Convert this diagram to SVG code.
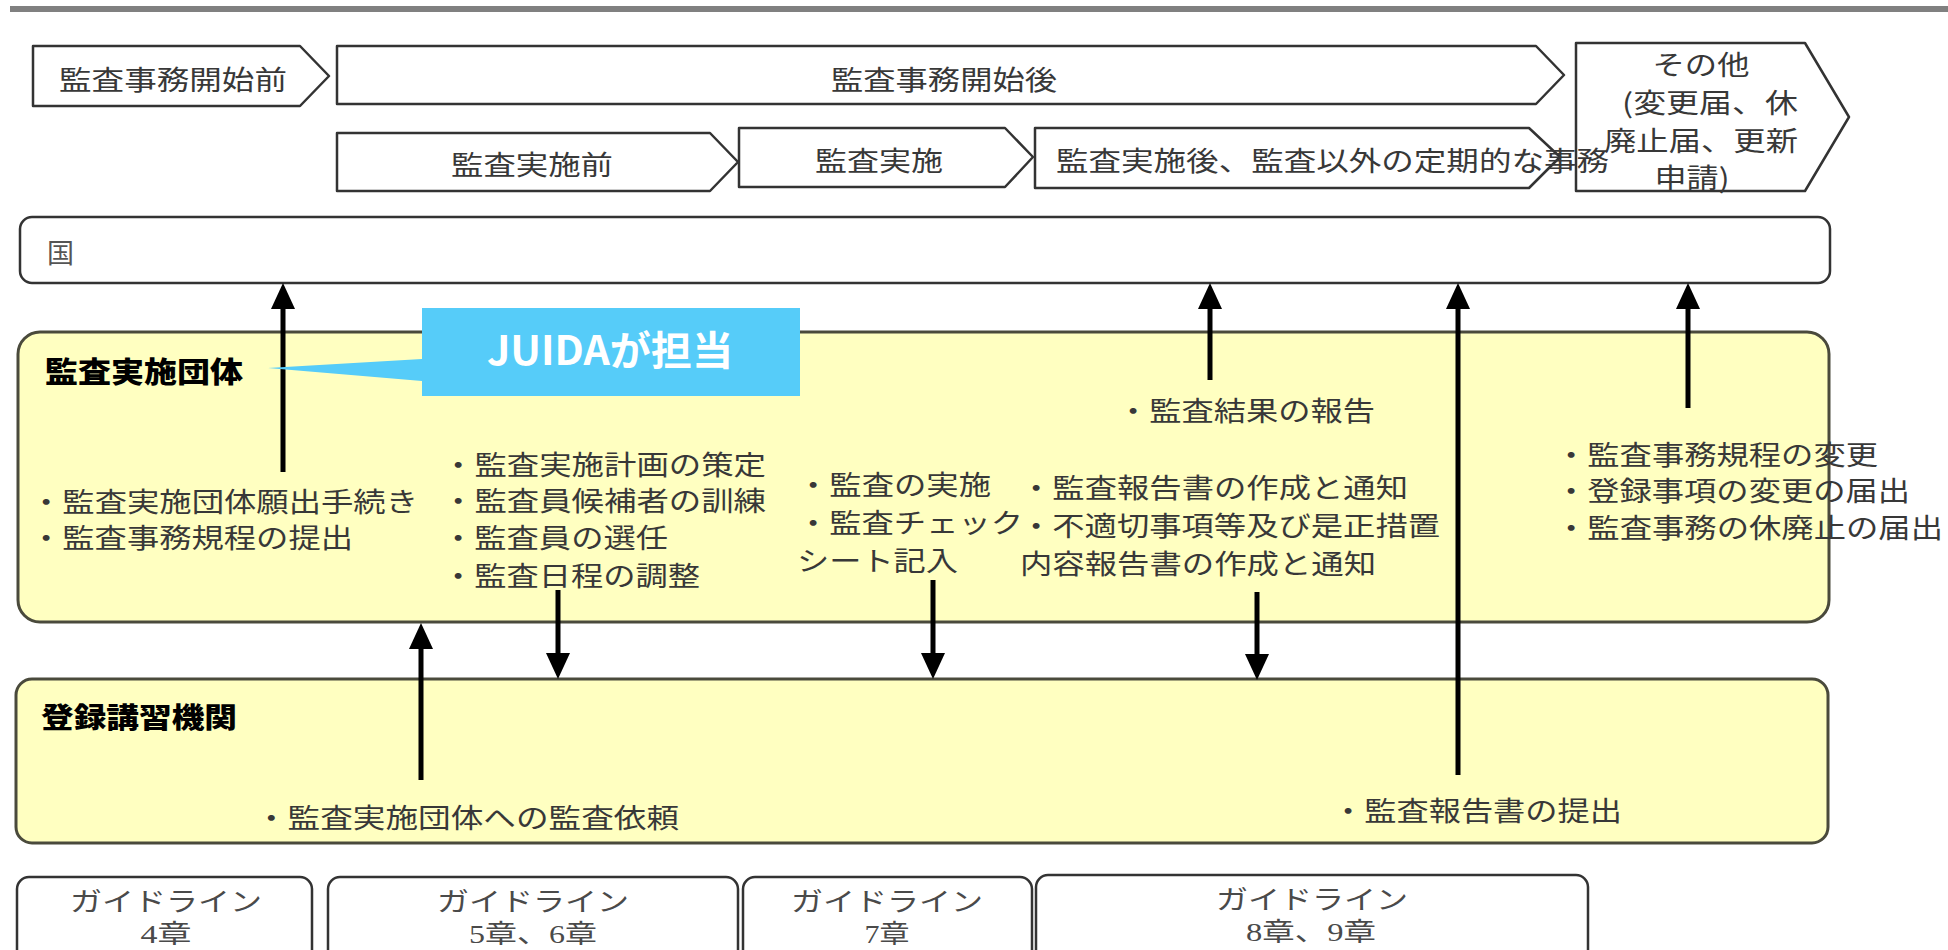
<svg xmlns="http://www.w3.org/2000/svg" width="1948" height="950" viewBox="0 0 1948 950">
<defs>
<style>
.t{font-family:"Noto Sans CJK JP","Noto Sans CJK SC",sans-serif;font-size:27px;fill:#383838}
.b{font-family:"Noto Sans CJK JP",sans-serif;font-size:29px;font-weight:900;fill:#000}
.g{font-family:"Liberation Serif","Noto Sans CJK JP",serif;font-size:26px;fill:#4a4a4a}
.box{fill:#fff;stroke:#333;stroke-width:2.5;stroke-linejoin:round}
.ybox{fill:#FFFFC1;stroke:#4a4a3c;stroke-width:3}
.arr{stroke:#000;stroke-width:5;fill:none;marker-end:url(#ah)}
.callout{fill:#56CCF9}
.ct{font-family:"Noto Sans CJK JP",sans-serif;font-size:40px;font-weight:700;fill:#fff}
</style>
<marker id="ah" markerUnits="userSpaceOnUse" markerWidth="26" markerHeight="24" refX="10" refY="12" orient="auto">
<path d="M0,0 L26,12 L0,24 z" fill="#000"/>
</marker>
</defs>
<rect x="0" y="0" width="1948" height="950" fill="#fff"/>
<rect x="10" y="6" width="1938" height="6" fill="#808080"/>

<g id="phase-before">
<polygon class="box" points="33,46 300,46 329,76 300,106 33,106"/>
<text class="t" x="59" y="90" textLength="228" lengthAdjust="spacingAndGlyphs">監査事務開始前</text>
</g>
<g id="phase-after">
<polygon class="box" points="337,46 1536,46 1564,75 1536,104 337,104"/>
<text class="t" x="831" y="90" textLength="226" lengthAdjust="spacingAndGlyphs">監査事務開始後</text>
</g>
<g id="phase-pre-audit">
<polygon class="box" points="337,133 710,133 738,162 710,191 337,191"/>
<text class="t" x="451" y="175" textLength="162" lengthAdjust="spacingAndGlyphs">監査実施前</text>
</g>
<g id="phase-audit">
<polygon class="box" points="739,128 1005,128 1033,157 1005,187 739,187"/>
<text class="t" x="815" y="171" textLength="128" lengthAdjust="spacingAndGlyphs">監査実施</text>
</g>
<g id="phase-post-audit">
<polygon class="box" points="1035,128 1529,128 1560,157 1529,188 1035,188"/>
</g>
<g id="phase-other">
<polygon class="box" points="1576,43 1805,43 1849,117 1805,191 1576,191"/>
<text class="t" x="1701" y="75" text-anchor="middle" textLength="97" lengthAdjust="spacingAndGlyphs">その他</text>
<text class="t" x="1710" y="113" text-anchor="middle" textLength="176" lengthAdjust="spacingAndGlyphs">(変更届、休</text>
<text class="t" x="1701" y="151" text-anchor="middle" textLength="194" lengthAdjust="spacingAndGlyphs">廃止届、更新</text>
<text class="t" x="1692" y="188" text-anchor="middle" textLength="75" lengthAdjust="spacingAndGlyphs">申請)</text>
</g>
<text class="t" x="1056" y="171" textLength="553" lengthAdjust="spacingAndGlyphs">監査実施後、監査以外の定期的な事務</text>

<g id="kuni">
<rect class="box" x="20" y="217" width="1810" height="66" rx="12"/>
<text class="t" x="47" y="263" style="font-size:27px;fill:#555">国</text>
</g>

<g id="audit-body">
<rect class="ybox" x="18" y="332" width="1811" height="290" rx="22"/>
<text class="b" x="45" y="383" textLength="198" lengthAdjust="spacingAndGlyphs">監査実施団体</text>
<text class="t" x="30" y="512" textLength="388" lengthAdjust="spacingAndGlyphs">・監査実施団体願出手続き</text>
<text class="t" x="30" y="548" textLength="323" lengthAdjust="spacingAndGlyphs">・監査事務規程の提出</text>
<text class="t" x="442" y="475" textLength="324" lengthAdjust="spacingAndGlyphs">・監査実施計画の策定</text>
<text class="t" x="442" y="511" textLength="324" lengthAdjust="spacingAndGlyphs">・監査員候補者の訓練</text>
<text class="t" x="442" y="548" textLength="226" lengthAdjust="spacingAndGlyphs">・監査員の選任</text>
<text class="t" x="442" y="586" textLength="258" lengthAdjust="spacingAndGlyphs">・監査日程の調整</text>
<text class="t" x="797" y="495" textLength="194" lengthAdjust="spacingAndGlyphs">・監査の実施</text>
<text class="t" x="797" y="533" textLength="226" lengthAdjust="spacingAndGlyphs">・監査チェック</text>
<text class="t" x="797" y="571" textLength="161" lengthAdjust="spacingAndGlyphs">シート記入</text>
<text class="t" x="1117" y="421" textLength="258" lengthAdjust="spacingAndGlyphs">・監査結果の報告</text>
<text class="t" x="1020" y="498" textLength="388" lengthAdjust="spacingAndGlyphs">・監査報告書の作成と通知</text>
<text class="t" x="1020" y="536" textLength="420" lengthAdjust="spacingAndGlyphs">・不適切事項等及び是正措置</text>
<text class="t" x="1020" y="574" textLength="356" lengthAdjust="spacingAndGlyphs">内容報告書の作成と通知</text>
<text class="t" x="1555" y="465" textLength="323" lengthAdjust="spacingAndGlyphs">・監査事務規程の変更</text>
<text class="t" x="1555" y="501" textLength="355" lengthAdjust="spacingAndGlyphs">・登録事項の変更の届出</text>
<text class="t" x="1555" y="538" textLength="388" lengthAdjust="spacingAndGlyphs">・監査事務の休廃止の届出</text>
</g>

<g id="training-body">
<rect class="ybox" x="16" y="679" width="1812" height="164" rx="16"/>
<text class="b" x="41" y="728" textLength="196" lengthAdjust="spacingAndGlyphs" style="font-size:28px">登録講習機関</text>
<text class="t" x="255" y="828" textLength="424" lengthAdjust="spacingAndGlyphs">・監査実施団体への監査依頼</text>
<text class="t" x="1332" y="821" textLength="290" lengthAdjust="spacingAndGlyphs">・監査報告書の提出</text>
</g>

<g id="guide-4">
<rect class="box" x="17" y="877" width="295" height="85" rx="12"/>
<text class="g" x="166" y="911" text-anchor="middle" textLength="192" lengthAdjust="spacingAndGlyphs">ガイドライン</text>
<text class="g" x="166" y="943" text-anchor="middle" textLength="51" lengthAdjust="spacingAndGlyphs">4章</text>
</g>
<g id="guide-5-6">
<rect class="box" x="328" y="877" width="410" height="85" rx="12"/>
<text class="g" x="533" y="911" text-anchor="middle" textLength="192" lengthAdjust="spacingAndGlyphs">ガイドライン</text>
<text class="g" x="533" y="943" text-anchor="middle" textLength="128" lengthAdjust="spacingAndGlyphs">5章、6章</text>
</g>
<g id="guide-7">
<rect class="box" x="743" y="877" width="289" height="85" rx="12"/>
<text class="g" x="887" y="911" text-anchor="middle" textLength="192" lengthAdjust="spacingAndGlyphs">ガイドライン</text>
<text class="g" x="887" y="943" text-anchor="middle" textLength="45" lengthAdjust="spacingAndGlyphs">7章</text>
</g>
<g id="guide-8-9">
<rect class="box" x="1036" y="875" width="552" height="87" rx="12"/>
<text class="g" x="1312" y="909" text-anchor="middle" textLength="192" lengthAdjust="spacingAndGlyphs">ガイドライン</text>
<text class="g" x="1311" y="941" text-anchor="middle" textLength="130" lengthAdjust="spacingAndGlyphs">8章、9章</text>
</g>

<g id="connectors">
<path class="arr" d="M283,472 V299"/>
<path class="arr" d="M1210,380 V299"/>
<path class="arr" d="M1458,775 V299"/>
<path class="arr" d="M1688,408 V299"/>
<path class="arr" d="M558,590 V663"/>
<path class="arr" d="M933,580 V663"/>
<path class="arr" d="M1257,592 V664"/>
<path class="arr" d="M421,780 V639"/>
</g>

<g id="juida-callout">
<path class="callout" d="M422,308 H800 V396 H422 V381 L268,368 L422,359 Z"/>
<text class="ct" x="487" y="365" textLength="246" lengthAdjust="spacingAndGlyphs">JUIDAが担当</text>
</g>
</svg>
